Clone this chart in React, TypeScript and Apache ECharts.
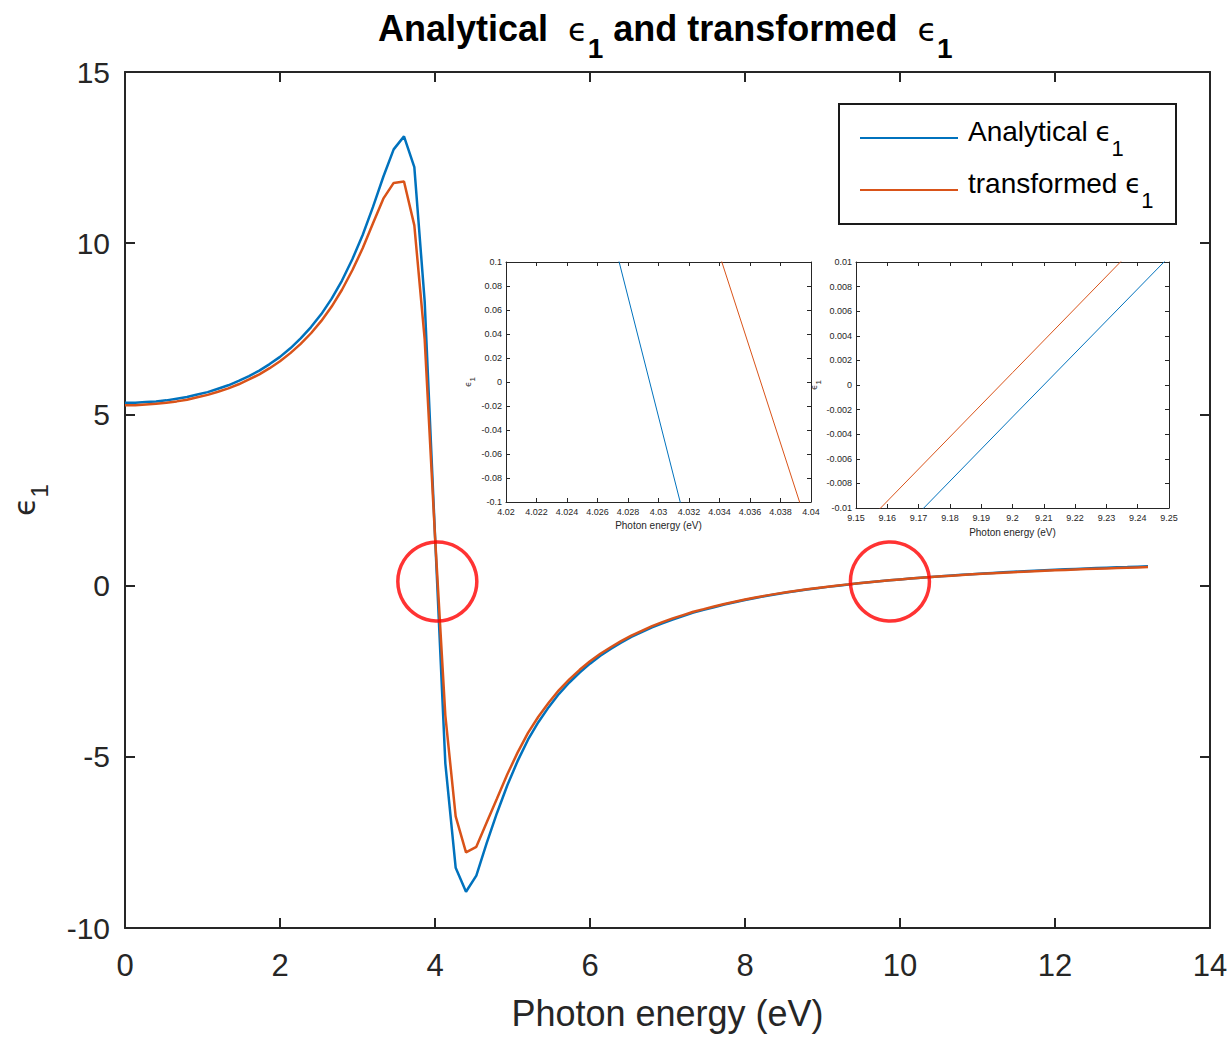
import { useEffect, useRef } from "react";
import * as echarts from "echarts";

// Photon energy grid (eV) used for both curves
const energy = [
  0, 0.1333, 0.2667, 0.4, 0.5333, 0.6667, 0.8, 0.9333, 1.0667, 1.2,
  1.3333, 1.4667, 1.6, 1.7333, 1.8667, 2.0, 2.1333, 2.2667, 2.4, 2.5333,
  2.6667, 2.8, 2.9333, 3.0667, 3.2, 3.3333, 3.4667, 3.6, 3.7333, 3.8667,
  4.0, 4.1333, 4.2667, 4.4, 4.5333, 4.6667, 4.8, 4.9333, 5.0667, 5.2,
  5.3333, 5.4667, 5.6, 5.7333, 5.8667, 6.0, 6.1333, 6.2667, 6.4, 6.5333,
  6.6667, 6.8, 6.9333, 7.0667, 7.2, 7.3333, 7.4667, 7.6, 7.7333, 7.8667,
  8.0, 8.1333, 8.2667, 8.4, 8.5333, 8.6667, 8.8, 8.9333, 9.0667, 9.2,
  9.3333, 9.4667, 9.6, 9.7333, 9.8667, 10.0, 10.1333, 10.2667, 10.4, 10.5333,
  10.6667, 10.8, 10.9333, 11.0667, 11.2, 11.3333, 11.4667, 11.6, 11.7333, 11.8667,
  12.0, 12.1333, 12.2667, 12.4, 12.5333, 12.6667, 12.8, 12.9333, 13.0667, 13.2,
];

const analyticalEps1 = [
  5.34, 5.34, 5.36, 5.38, 5.41, 5.46, 5.51, 5.58, 5.65, 5.75,
  5.85, 5.98, 6.12, 6.28, 6.47, 6.68, 6.93, 7.22, 7.55, 7.93,
  8.38, 8.91, 9.53, 10.24, 11.06, 11.94, 12.74, 13.12, 12.22, 8.3,
  1.47, -5.19, -8.24, -8.94, -8.47, -7.52, -6.64, -5.83, -5.12, -4.5,
  -3.99, -3.55, -3.16, -2.83, -2.54, -2.28, -2.05, -1.85, -1.67, -1.5,
  -1.36, -1.22, -1.1, -0.99, -0.89, -0.79, -0.71, -0.63, -0.553, -0.485,
  -0.421, -0.361, -0.305, -0.253, -0.204, -0.158, -0.115, -0.075, -0.0374, -0.0026,
  0.0321, 0.067, 0.098, 0.127, 0.155, 0.181, 0.206, 0.23, 0.253, 0.275,
  0.296, 0.315, 0.334, 0.353, 0.37, 0.387, 0.403, 0.418, 0.433, 0.447,
  0.461, 0.474, 0.487, 0.499, 0.511, 0.522, 0.533, 0.543, 0.554, 0.563,
];

const transformedEps1 = [
  5.27, 5.27, 5.29, 5.31, 5.34, 5.38, 5.43, 5.5, 5.57, 5.66,
  5.76, 5.88, 6.02, 6.17, 6.35, 6.55, 6.79, 7.06, 7.37, 7.73,
  8.15, 8.64, 9.21, 9.85, 10.58, 11.3, 11.76, 11.8, 10.52, 7.2,
  1.44, -3.79, -6.74, -7.79, -7.63, -6.92, -6.22, -5.51, -4.87, -4.3,
  -3.83, -3.42, -3.05, -2.74, -2.46, -2.21, -1.99, -1.8, -1.62, -1.46,
  -1.32, -1.185, -1.067, -0.958, -0.862, -0.765, -0.688, -0.61, -0.535, -0.469,
  -0.406, -0.348, -0.293, -0.242, -0.194, -0.149, -0.108, -0.0695, -0.0338, 0.001,
  0.0358, 0.07, 0.101, 0.129, 0.156, 0.181, 0.205, 0.228, 0.25, 0.271,
  0.291, 0.31, 0.328, 0.346, 0.362, 0.378, 0.393, 0.407, 0.421, 0.434,
  0.447, 0.459, 0.471, 0.482, 0.493, 0.503, 0.513, 0.523, 0.532, 0.541,
];

// Red circles marking the zero crossings (data coordinates)
const highlightCenters = [
  [4.03, 0.12],
  [9.87, 0.12],
];

// Axis ranges / tick steps
const mainX = { min: 0, max: 14, interval: 2 };
const mainY = { min: -10, max: 15, interval: 5 };
const inset1X = { min: 4.02, max: 4.04, interval: 0.002 };
const inset1Y = { min: -0.1, max: 0.1, interval: 0.02 };
const inset2X = { min: 9.15, max: 9.25, interval: 0.01 };
const inset2Y = { min: -0.01, max: 0.01, interval: 0.002 };

const seriesNames = ["Analytical ϵ1", "transformed ϵ1"];
const xTitle = "Photon energy (eV)";

const SANS = '"Liberation Sans", Arial, Helvetica, sans-serif';
const GREEK = '"DejaVu Sans", sans-serif';
const AX = "#262626";
const BLUE = "#0072BD";
const ORANGE = "#D95319";

const trim = (v: number) => String(parseFloat(Number(v).toFixed(5)));

function axis(o: any) {
  const {
    grid, position, range, labels, fontSize, tickLen, lineWidth, margin,
    name, nameGap, nameTextStyle, nameRotate,
  } = o;
  return {
    type: "value",
    gridIndex: grid,
    position,
    min: range.min,
    max: range.max,
    interval: range.interval,
    axisLine: { show: true, onZero: false, lineStyle: { color: AX, width: lineWidth } },
    axisTick: { show: true, inside: true, length: tickLen, lineStyle: { color: AX, width: lineWidth } },
    axisLabel: {
      show: labels,
      fontSize,
      fontFamily: SANS,
      color: AX,
      margin,
      formatter: trim,
      showMinLabel: true,
      showMaxLabel: true,
      hideOverlap: false,
    },
    splitLine: { show: false },
    name,
    nameLocation: "middle",
    nameGap,
    nameRotate,
    nameTextStyle,
  };
}

const epsName = (eSize: number, sSize: number, pad: number) => ({
  rich: {
    e: { fontFamily: GREEK, fontWeight: "normal", fontSize: eSize, color: AX, padding: [0, 0, pad, 0], verticalAlign: "bottom" },
    s: { fontFamily: SANS, fontSize: sSize, color: AX, verticalAlign: "bottom" },
  },
});

export default function App() {
  const ref = useRef<HTMLDivElement>(null);

  useEffect(() => {
    if (!ref.current) return;
    const chart = echarts.init(ref.current, undefined, { renderer: "svg" });

    const analyticalPts = energy.map((x, i) => [x, analyticalEps1[i]]);
    const transformedPts = energy.map((x, i) => [x, transformedEps1[i]]);

    const lineSeries = (name: string, data: any, color: string, xi: number, width: number, z: number) => ({
      type: "line",
      name,
      data,
      xAxisIndex: xi,
      yAxisIndex: xi,
      symbol: "none",
      showSymbol: false,
      clip: true,
      silent: true,
      z,
      lineStyle: { color, width },
      itemStyle: { color },
      emphasis: { disabled: true },
    });

    const option: any = {
      animation: false,
      backgroundColor: "#fff",
      title: {
        text: "{t|Analytical  }{e|ϵ}{s|1}{t| and transformed  }{e|ϵ}{s|1}",
        left: 378,
        top: 10,
        padding: 0,
        textStyle: {
          fontWeight: "normal",
          rich: {
            t: { fontFamily: SANS, fontWeight: "bold", fontSize: 36, color: "#000", padding: [0, 0, 16, 0], verticalAlign: "bottom" },
            e: { fontFamily: GREEK, fontWeight: "normal", fontSize: 32, color: "#000", padding: [0, 0, 16, 0], verticalAlign: "bottom" },
            s: { fontFamily: SANS, fontWeight: "bold", fontSize: 28, color: "#000", verticalAlign: "bottom" },
          },
        },
      },
      legend: {
        data: seriesNames,
        orient: "vertical",
        left: 860,
        top: 117,
        padding: 0,
        icon: "rect",
        itemWidth: 98,
        itemHeight: 2,
        itemGap: 10,
        selectedMode: false,
        formatter: (n: string) => {
          const word = n.replace(" ϵ1", "");
          return `{a|${word} }{e|ϵ}{s|1}`;
        },
        textStyle: {
          rich: {
            a: { fontFamily: SANS, fontSize: 28, color: "#000", padding: [0, 0, 14, 5], verticalAlign: "bottom" },
            e: { fontFamily: GREEK, fontSize: 26, color: "#000", padding: [0, 0, 14, 0], verticalAlign: "bottom" },
            s: { fontFamily: SANS, fontSize: 22, color: "#000", verticalAlign: "bottom" },
          },
        },
      },
      graphic: [
        {
          type: "rect",
          z: 1,
          shape: { x: 839, y: 104, width: 337, height: 120 },
          style: { fill: "#fff", stroke: "#1a1a1a", lineWidth: 2 },
        },
      ],
      grid: [
        { left: 125, top: 72, width: 1085, height: 856, containLabel: false },
        { left: 506, top: 262, width: 305, height: 240, show: true, backgroundColor: "#fff", borderWidth: 0 },
        { left: 856, top: 262, width: 313, height: 246, show: true, backgroundColor: "#fff", borderWidth: 0 },
      ],
      xAxis: [
        axis({
          grid: 0, position: "bottom", range: mainX, labels: true, fontSize: 31, tickLen: 10, lineWidth: 2, margin: 22,
          name: xTitle, nameGap: 67, nameTextStyle: { fontFamily: SANS, fontSize: 36, color: AX },
        }),
        axis({ grid: 0, position: "top", range: mainX, labels: false, fontSize: 31, tickLen: 10, lineWidth: 2, margin: 8 }),
        axis({
          grid: 1, position: "bottom", range: inset1X, labels: true, fontSize: 9, tickLen: 4, lineWidth: 1, margin: 5,
          name: xTitle, nameGap: 18, nameTextStyle: { fontFamily: SANS, fontSize: 10, color: AX },
        }),
        axis({ grid: 1, position: "top", range: inset1X, labels: false, fontSize: 9, tickLen: 4, lineWidth: 1, margin: 5 }),
        axis({
          grid: 2, position: "bottom", range: inset2X, labels: true, fontSize: 9, tickLen: 4, lineWidth: 1, margin: 5,
          name: xTitle, nameGap: 19, nameTextStyle: { fontFamily: SANS, fontSize: 10, color: AX },
        }),
        axis({ grid: 2, position: "top", range: inset2X, labels: false, fontSize: 9, tickLen: 4, lineWidth: 1, margin: 5 }),
      ],
      yAxis: [
        axis({
          grid: 0, position: "left", range: mainY, labels: true, fontSize: 30, tickLen: 10, lineWidth: 2, margin: 15,
          name: "{e|ϵ}{s|1}", nameGap: 74, nameRotate: 90, nameTextStyle: epsName(30, 24, 12),
        }),
        axis({ grid: 0, position: "right", range: mainY, labels: false, fontSize: 30, tickLen: 10, lineWidth: 2, margin: 8 }),
        axis({
          grid: 1, position: "left", range: inset1Y, labels: true, fontSize: 9, tickLen: 4, lineWidth: 1, margin: 4,
          name: "{e|ϵ}{s|1}", nameGap: 30, nameRotate: 90, nameTextStyle: epsName(9, 8, 4),
        }),
        axis({ grid: 1, position: "right", range: inset1Y, labels: false, fontSize: 9, tickLen: 4, lineWidth: 1, margin: 4 }),
        axis({
          grid: 2, position: "left", range: inset2Y, labels: true, fontSize: 9, tickLen: 4, lineWidth: 1, margin: 4,
          name: "{e|ϵ}{s|1}", nameGap: 33, nameRotate: 90, nameTextStyle: epsName(9, 8, 4),
        }),
        axis({ grid: 2, position: "right", range: inset2Y, labels: false, fontSize: 9, tickLen: 4, lineWidth: 1, margin: 4 }),
      ],
      series: [
        lineSeries(seriesNames[0], analyticalPts, BLUE, 0, 2.5, 3),
        lineSeries(seriesNames[1], transformedPts, ORANGE, 0, 2.5, 4),
        lineSeries(seriesNames[0], analyticalPts, BLUE, 2, 1, 3),
        lineSeries(seriesNames[1], transformedPts, ORANGE, 2, 1, 4),
        lineSeries(seriesNames[0], analyticalPts, BLUE, 4, 1, 3),
        lineSeries(seriesNames[1], transformedPts, ORANGE, 4, 1, 4),
        {
          type: "scatter",
          name: "zero crossings",
          data: highlightCenters,
          xAxisIndex: 0,
          yAxisIndex: 0,
          symbol: "circle",
          symbolSize: 79,
          silent: true,
          z: 10,
          itemStyle: { color: "rgba(0,0,0,0)", borderColor: "#FF0000", borderWidth: 3.5 },
          emphasis: { disabled: true },
        },
      ],
    };

    chart.setOption(option);
    return () => chart.dispose();
  }, []);

  return (
    <div
      ref={ref}
      style={{ position: "fixed", left: 0, top: 0, width: 1232, height: 1037, background: "#fff" }}
    />
  );
}
